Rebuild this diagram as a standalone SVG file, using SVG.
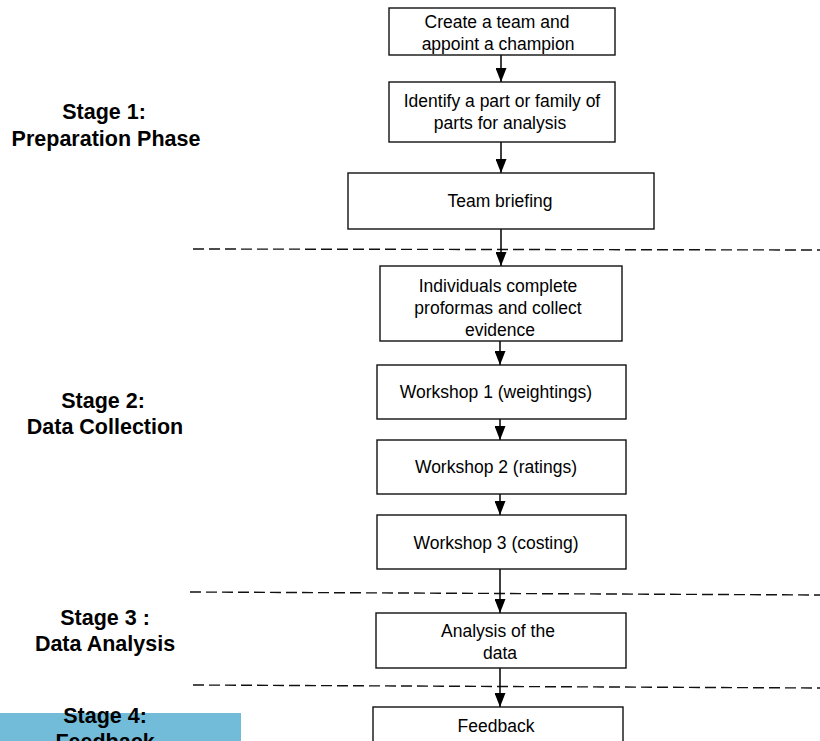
<svg xmlns="http://www.w3.org/2000/svg" width="820" height="741" viewBox="0 0 820 741">
<defs>
<marker id="ah" viewBox="0 0 14 11" refX="14" refY="5.5" markerWidth="14" markerHeight="11" markerUnits="userSpaceOnUse" orient="auto">
<path d="M0,0 L14,5.5 L0,11 z" fill="#000"/>
</marker>
<style>
.box{fill:#fff;stroke:#111;stroke-width:1.4}
.bt{font-family:"Liberation Sans",Arial,sans-serif;font-size:17.5px;fill:#000;text-anchor:middle}
.st{font-family:"Liberation Sans",Arial,sans-serif;font-size:21.5px;font-weight:bold;fill:#000;text-anchor:middle}
.dash{stroke:#111;stroke-width:1.4;stroke-dasharray:11 5;fill:none}
.con{stroke:#000;stroke-width:1.5;fill:none;marker-end:url(#ah)}
</style>
</defs>
<rect x="0" y="0" width="820" height="741" fill="#fff"/>
<rect x="0" y="713" width="241" height="28" fill="#72bcd9"/>
<g id="stage-labels">
<text class="st" x="104" y="119">Stage 1:</text>
<text class="st" x="106" y="146">Preparation Phase</text>
<text class="st" x="103" y="408">Stage 2:</text>
<text class="st" x="105" y="434">Data Collection</text>
<text class="st" x="105" y="625">Stage 3 :</text>
<text class="st" x="105" y="651">Data Analysis</text>
<text class="st" x="105" y="723">Stage 4:</text>
<text class="st" x="105" y="749">Feedback</text>
</g>
<g id="dividers">
<line class="dash" x1="193" y1="249" x2="820" y2="250"/>
<line class="dash" x1="190" y1="592" x2="820" y2="595"/>
<line class="dash" x1="193" y1="685" x2="820" y2="688"/>
</g>
<g id="connectors">
<line class="con" x1="501" y1="55" x2="501" y2="82"/>
<line class="con" x1="501" y1="142" x2="501" y2="173"/>
<line class="con" x1="501" y1="229" x2="501" y2="266"/>
<line class="con" x1="500" y1="341" x2="500" y2="365"/>
<line class="con" x1="500" y1="419" x2="500" y2="440"/>
<line class="con" x1="500" y1="494" x2="500" y2="515"/>
<line class="con" x1="500" y1="569" x2="500" y2="613"/>
<line class="con" x1="500" y1="668" x2="500" y2="707"/>
</g>
<g id="n1">
<rect class="box" x="389" y="8" width="226" height="47"/>
<text class="bt" x="497" y="28">Create a team and</text>
<text class="bt" x="498" y="50">appoint a champion</text>
</g>
<g id="n2">
<rect class="box" x="389" y="82" width="226" height="60"/>
<text class="bt" x="502" y="107">Identify a part or family of</text>
<text class="bt" x="500" y="129">parts for analysis</text>
</g>
<g id="n3">
<rect class="box" x="348" y="173" width="306" height="56"/>
<text class="bt" x="500" y="207">Team briefing</text>
</g>
<g id="n4">
<rect class="box" x="380" y="266" width="242" height="75"/>
<text class="bt" x="498" y="292">Individuals complete</text>
<text class="bt" x="498" y="314">proformas and collect</text>
<text class="bt" x="500" y="336">evidence</text>
</g>
<g id="n5">
<rect class="box" x="377" y="365" width="249" height="54"/>
<text class="bt" x="496" y="398">Workshop 1 (weightings)</text>
</g>
<g id="n6">
<rect class="box" x="377" y="440" width="249" height="54"/>
<text class="bt" x="496" y="473">Workshop 2 (ratings)</text>
</g>
<g id="n7">
<rect class="box" x="377" y="515" width="249" height="54"/>
<text class="bt" x="496" y="549">Workshop 3 (costing)</text>
</g>
<g id="n8">
<rect class="box" x="376" y="613" width="250" height="55"/>
<text class="bt" x="498" y="637">Analysis of the</text>
<text class="bt" x="500" y="659">data</text>
</g>
<g id="n9">
<rect class="box" x="373" y="707" width="250" height="40"/>
<text class="bt" x="496" y="732">Feedback</text>
</g>
</svg>
